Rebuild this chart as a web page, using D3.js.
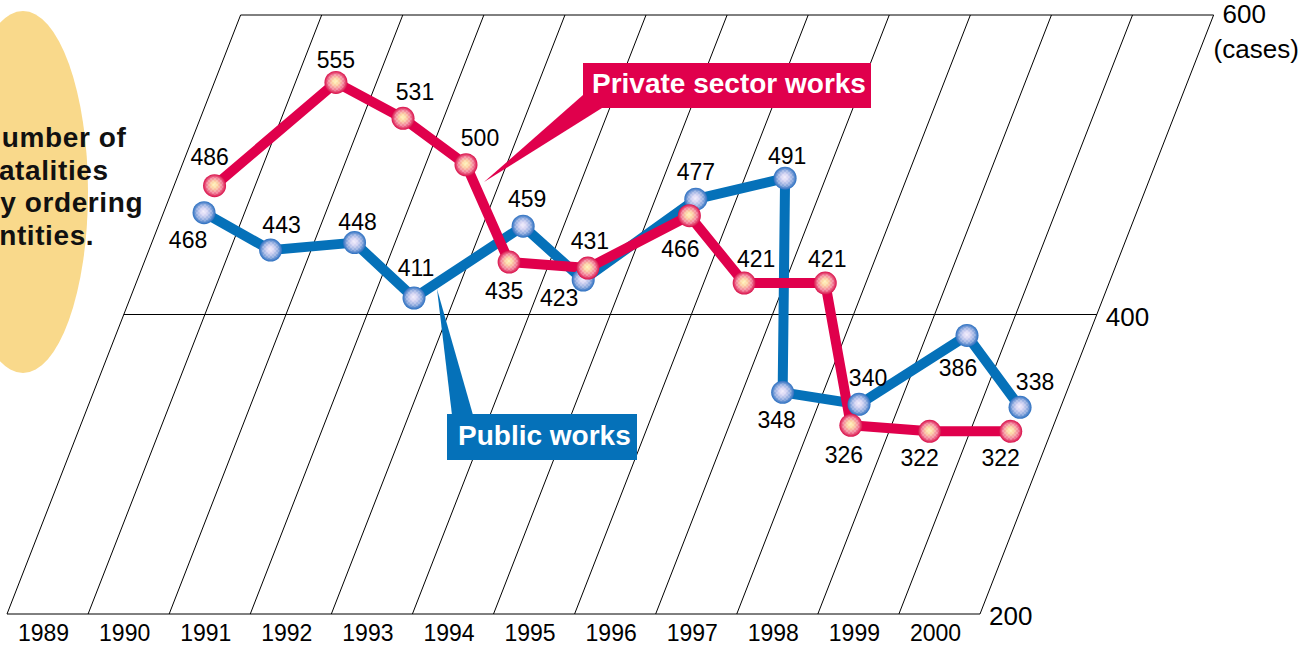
<!DOCTYPE html>
<html>
<head>
<meta charset="utf-8">
<script src="https://cdn.jsdelivr.net/npm/d3@7/dist/d3.min.js"></script>
<style>
  html, body { margin: 0; padding: 0; background: #ffffff; }
  svg { display: block; font-family: "Liberation Sans", Arial, Helvetica, sans-serif; }
</style>
</head>
<body>
<svg id="chart" width="1308" height="646"></svg>
<script>
// ---- data -------------------------------------------------------------
const years = [1989, 1990, 1991, 1992, 1993, 1994, 1995, 1996, 1997, 1998, 1999, 2000];
const publicWorks  = [468, 443, 448, 411, 459, 423, 477, 491, 348, 340, 386, 338];
const privateWorks = [486, 555, 531, 500, 435, 431, 466, 421, 421, 326, 322, 322];
const valueTicks = [200, 400, 600];
const unitLabel = "(cases)";
const titleLines = ["Number of", "fatalities", "by ordering", "entities."];
const publicName = "Public works";
const privateName = "Private sector works";

// ---- layout -----------------------------------------------------------
// value-label placement (dx, dy from each point, in px)
const publicLabelOffsets  = [[-16, 27], [11, -25], [3, -21], [2, -30], [4, -27], [-24, 18],
                             [0, -27], [2, -23], [-6, 27], [9, -27], [-9, 32], [15, -26]];
const privateLabelOffsets = [[-5, -29], [0, -23], [12, -27], [14, -27], [-5, 29], [2, -27],
                             [-9, 33], [12, -24], [2, -24], [-7, 29], [-10, 26], [-10, 26]];

const RED = "#e0004c";
const BLUE = "#0571b9";
const SLANT = 0.39;            // horizontal shift per px of height (oblique frame)

const svg = d3.select("#chart");

const x = d3.scaleBand().domain(years).range([7, 980]).padding(0);
const y = d3.scaleLinear().domain([200, 600]).range([614, 15]);
const y0 = y(200);
const shift = py => SLANT * (y0 - py);
// oblique position of a value inside a year column
const px = (yr, v) => x(yr) + x.bandwidth() / 2 + shift(y(v));

// ---- gradients / texture ---------------------------------------------
const defs = svg.append("defs");
function ballGradient(id, stops) {
  const g = defs.append("radialGradient").attr("id", id)
    .attr("cx", "50%").attr("cy", "50%").attr("r", "50%")
    .attr("fx", "48%").attr("fy", "45%");
  stops.forEach(([o, c]) => g.append("stop").attr("offset", o).attr("stop-color", c));
}
ballGradient("ballRed",  [["0%", "#fff4b8"], ["30%", "#fcd2a2"], ["65%", "#f3839a"], ["100%", "#d8104b"]]);
ballGradient("ballBlue", [["0%", "#f1ecfb"], ["30%", "#d6d4f3"], ["65%", "#93acdf"], ["100%", "#2a6fc0"]]);

const dither = defs.append("pattern").attr("id", "dither")
  .attr("width", 4).attr("height", 4).attr("patternUnits", "userSpaceOnUse");
dither.append("rect").attr("width", 2).attr("height", 2).attr("fill", "#ffffff").attr("opacity", 0.18);
dither.append("rect").attr("x", 2).attr("y", 2).attr("width", 2).attr("height", 2).attr("fill", "#ffffff").attr("opacity", 0.18);

// ---- title badge -------------------------------------------------------
svg.append("ellipse")
  .attr("cx", 23).attr("cy", 192).attr("rx", 65).attr("ry", 181)
  .attr("fill", "#f9d98b");

const titleStarts = [-19, -11, -17.5, -17];
svg.append("g").selectAll("text").data(titleLines).join("text")
  .attr("x", (d, i) => titleStarts[i])
  .attr("y", (d, i) => 147 + i * 32.7)
  .attr("font-size", 28).attr("font-weight", "bold").attr("fill", "#111")
  .attr("letter-spacing", 0.6)
  .text(d => d);

// ---- oblique grid -------------------------------------------------------
const grid = svg.append("g").attr("stroke", "#000").attr("stroke-width", 1).attr("fill", "none");
const bounds = years.map(yr => x(yr)).concat([x.range()[1]]);
const yTop = y(d3.max(valueTicks));
grid.selectAll("line.col").data(bounds).join("line").attr("class", "col")
  .attr("x1", d => d).attr("y1", y0)
  .attr("x2", d => d + shift(yTop)).attr("y2", yTop);
grid.selectAll("line.row").data(valueTicks).join("line").attr("class", "row")
  .attr("x1", v => x.range()[0] + shift(y(v))).attr("y1", v => y(v))
  .attr("x2", v => x.range()[1] + shift(y(v))).attr("y2", v => y(v));

// value ticks at the right-hand end of each row
svg.append("g").selectAll("text").data(valueTicks).join("text")
  .attr("x", v => x.range()[1] + shift(y(v)) + 9)
  .attr("y", (v, i) => y(v) + (i === valueTicks.length - 1 ? 8 : 11))
  .attr("font-size", 26).attr("fill", "#000")
  .text(v => v);
svg.append("text")
  .attr("x", x.range()[1] + shift(yTop))
  .attr("y", yTop + 43)
  .attr("font-size", 26).attr("fill", "#000")
  .text(unitLabel);

// year axis
const xAxis = svg.append("g").attr("transform", `translate(-4,${y0})`)
  .call(d3.axisBottom(x).tickSize(0).tickPadding(11));
xAxis.select(".domain").remove();
xAxis.selectAll("text")
  .attr("font-size", 23)
  .attr("font-family", "\"Liberation Sans\", Arial, Helvetica, sans-serif")
  .attr("fill", "#000");

// ---- callouts -----------------------------------------------------------
const callouts = svg.append("g");
callouts.append("polygon")
  .attr("points", "583,95 602,108 484,182").attr("fill", RED);
callouts.append("rect")
  .attr("x", 583).attr("y", 63).attr("width", 288).attr("height", 45).attr("fill", RED);
callouts.append("text")
  .attr("x", 592).attr("y", 93).attr("font-size", 28).attr("font-weight", "bold")
  .attr("fill", "#fff").text(privateName);

callouts.append("polygon")
  .attr("points", "437,289 452,415 473,415").attr("fill", BLUE);
callouts.append("rect")
  .attr("x", 447).attr("y", 414).attr("width", 190).attr("height", 46).attr("fill", BLUE);
callouts.append("text")
  .attr("x", 458).attr("y", 445).attr("font-size", 28).attr("font-weight", "bold")
  .attr("fill", "#fff").text(publicName);

// ---- series -------------------------------------------------------------
const seriesList = [
  { key: "public",  values: publicWorks,  color: BLUE, ball: "ballBlue", offsets: publicLabelOffsets },
  { key: "private", values: privateWorks, color: RED,  ball: "ballRed",  offsets: privateLabelOffsets }
];
seriesList.forEach(s => {
  s.points = years.map((yr, i) => ({ yr, v: s.values[i], cx: px(yr, s.values[i]), cy: y(s.values[i]) }));
});

const line = d3.line().x(d => d.cx).y(d => d.cy);
svg.append("g").selectAll("path").data(seriesList).join("path")
  .attr("d", s => line(s.points))
  .attr("fill", "none")
  .attr("stroke", s => s.color)
  .attr("stroke-width", 10)
  .attr("stroke-linejoin", "round");

seriesList.forEach(s => {
  const g = svg.append("g");
  g.selectAll("circle.ball").data(s.points).join("circle").attr("class", "ball")
    .attr("cx", d => d.cx).attr("cy", d => d.cy).attr("r", 11.5)
    .attr("fill", `url(#${s.ball})`);
  g.selectAll("circle.tex").data(s.points).join("circle").attr("class", "tex")
    .attr("cx", d => d.cx).attr("cy", d => d.cy).attr("r", 9)
    .attr("fill", "url(#dither)");
});

seriesList.forEach(s => {
  svg.append("g").selectAll("text").data(s.points).join("text")
    .attr("x", (d, i) => d.cx + s.offsets[i][0])
    .attr("y", (d, i) => d.cy + s.offsets[i][1])
    .attr("dy", "0.36em")
    .attr("text-anchor", "middle")
    .attr("font-size", 23).attr("fill", "#000")
    .text(d => d.v);
});
</script>
</body>
</html>
